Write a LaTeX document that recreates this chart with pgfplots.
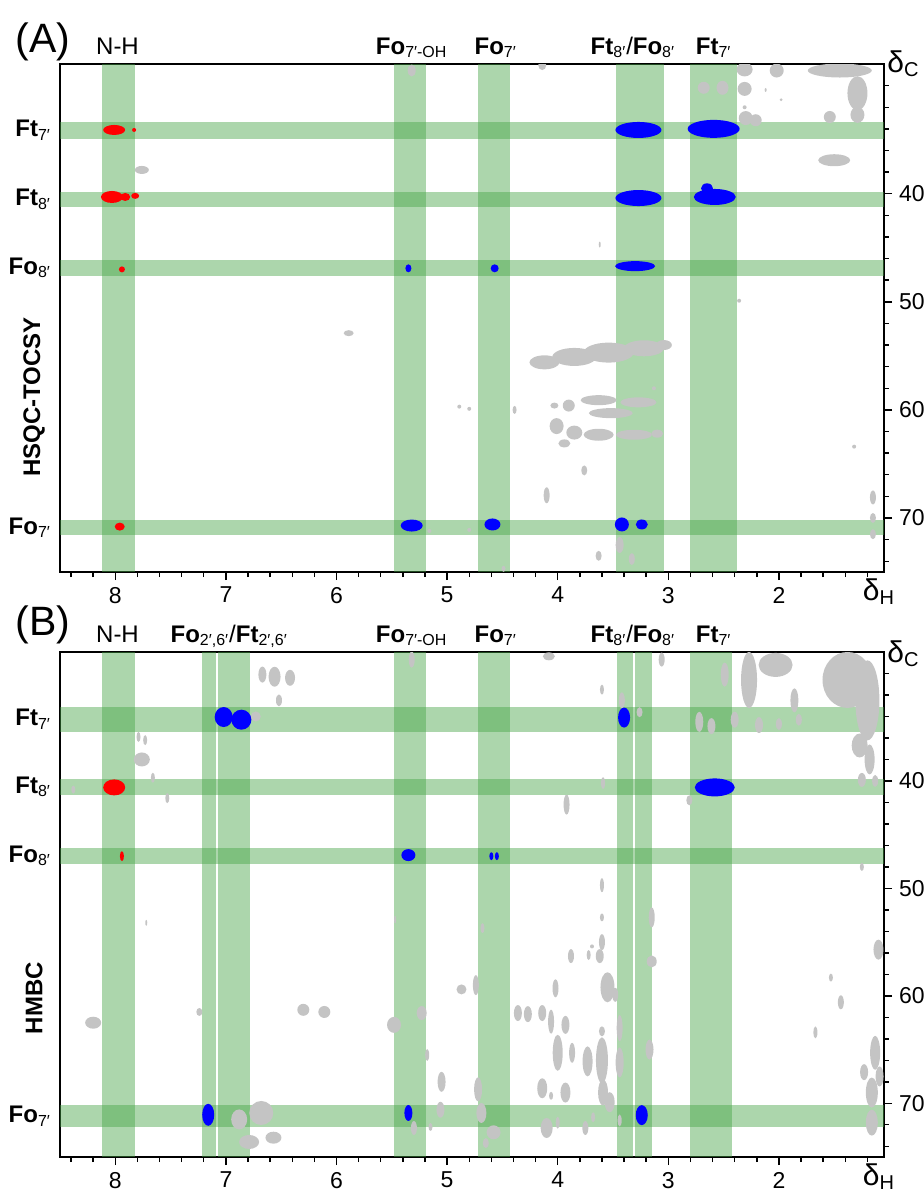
\documentclass[border=0pt]{standalone}
\usepackage{fontspec}
\setmainfont{Liberation Sans}
\usepackage{pgfplots}
\usepackage{pgfplotstable}
\pgfplotsset{compat=1.18}

\definecolor{bandgreen}{RGB}{70,165,70}
\definecolor{peakgray}{RGB}{196,196,196}

% ellipse mark, radii (in reference pixels) come from the table
\pgfdeclareplotmark{blob}{%
  \pgfpathellipse{\pgfpointorigin}{\pgfpoint{0.5*\rx pt}{0pt}}{\pgfpoint{0pt}{0.5*\ry pt}}%
  \pgfusepathqfill}

\pgfplotsset{
  nmr/.style={
    scale only axis, width=412pt,
    x dir=reverse, y dir=reverse,
    xmin=1.05, xmax=8.5, ymin=28, ymax=75,
    xtick={2,3,4,5,6,7,8}, minor xtick={1.2,1.4,...,8.45},
    ytick={40,50,60,70}, minor ytick={30,32,...,74},
    xtick pos=left, ytick pos=right, yticklabel pos=right,
    tick align=outside,
    major tick length=4pt, minor tick length=2.5pt,
    every tick/.style={black, line width=0.7pt},
    axis line style={line width=0.8pt},
    tick label style={font=\fontsize{11.5}{12}\selectfont},
    /pgf/number format/assume math mode=true,
    clip mode=individual, clip marker paths=true,
  },
  band/.style={draw=none, fill=bandgreen, fill opacity=0.45, forget plot},
  blobs/.style={only marks, scatter, mark=blob, forget plot,
    visualization depends on={\thisrow{rx}\as\rx},
    visualization depends on={\thisrow{ry}\as\ry},
    scatter/@pre marker code/.code={}, scatter/@post marker code/.code={}},
}

\newcommand\vband[2]{\addplot[band] coordinates {(#1,28) (#2,28) (#2,75) (#1,75)} -- cycle;}
\newcommand\hband[2]{\addplot[band] coordinates {(8.5,#1) (1.05,#1) (1.05,#2) (8.5,#2)} -- cycle;}
\newcommand\lab[2]{\textbf{#1}\textsubscript{#2}}
\newcommand\labfont{\fontsize{12}{14}\selectfont}

% ---- panel A: HSQC-TOCSY ----
\pgfplotstableread{
x y rx ry
2.31 28.5 8 7
2.02 28.6 7 7
1.45 28.6 32 7
1.29 30.7 10 17
1.29 32.7 7 8
1.54 32.9 6 6
2.31 30.3 7 7
2.51 30.2 6 7
2.68 30.2 6 6
2.30 33.0 7 7
2.21 33.2 6 6
2.12 30.4 1 2
1.98 31.3 1.5 1.5
2.31 32.0 2 2
4.14 28.1 4 5
5.32 28.6 4 6
7.76 37.8 7 4
1.50 36.9 16 6
4.12 55.6 15 7
3.85 55.1 22 9
3.54 54.7 25 10
3.22 54.3 20 8
3.04 54.0 8 5
5.89 52.9 5 3
3.63 59.1 18 5
3.27 59.3 18 5
3.90 59.6 6 6
4.03 59.6 4 3
3.52 60.3 22 5
4.01 61.5 7 8
3.85 62.1 8 7
3.63 62.3 15 6
3.31 62.3 18 5
3.10 62.2 6 4
3.94 63.1 6 4
4.89 59.7 2 2
4.80 59.9 2 2
4.39 60.0 2 4
3.13 58.0 2 2
4.10 67.9 3 8
3.76 65.6 3 5
3.44 72.5 4 8
3.33 73.8 3 6
3.63 73.5 3 5
4.80 71.1 2 2
5.16 71.2 2 2
4.49 74.7 2 3
2.36 49.9 2 2
3.62 44.7 1 3
1.32 63.4 2 2
1.15 68.1 3 7
1.15 70.0 3 5
1.15 71.5 3 5
}\grayA
\pgfplotstableread{
x y rx ry
8.01 34.1 11 5
7.83 34.1 2 2
8.03 40.3 11 6
7.91 40.3 5 4
7.82 40.2 4 3
7.94 47.0 3 3
7.96 70.8 5 4
}\redA
\pgfplotstableread{
x y rx ry
5.35 46.9 3 4
4.57 46.9 4 4
3.27 34.1 23 8
2.59 34.0 26 9
3.27 40.4 23 8
2.58 40.3 21 8
2.65 39.5 6 5
3.30 46.7 20 5
5.32 70.7 11 6
4.59 70.6 8 6
3.42 70.6 7 7
3.24 70.6 6 5
}\blueA

% ---- panel B: HMBC ----
\pgfplotstableread{
x y rx ry
2.27 30.6 8 28
2.03 29.2 17 12
1.86 32.5 4 12
1.38 30.6 25 28
1.20 32.5 12 40
1.27 36.7 8 12
1.18 38.0 5 15
1.25 39.9 4 7
1.13 40.0 3 6
1.25 48.0 2 4
3.06 28.7 3 7
2.49 30.1 4 12
3.60 31.5 2 5
3.42 32.5 3 8
4.08 28.4 6 4
5.32 28.7 3 8
6.67 30.1 4 8
6.56 30.3 6 10
6.42 30.4 5 8
6.52 32.5 3 6
6.73 34.0 5 5
7.79 35.9 2 5
7.73 36.2 2 5
7.76 38.0 8 7
7.66 39.7 2 5
7.53 41.6 2 5
8.38 40.8 2 4
7.72 53.2 1 3
8.20 62.5 8 6
2.72 34.5 4 10
2.61 34.9 4 8
2.40 34.3 4 8
2.18 34.8 4 8
2.00 34.7 3 6
1.82 34.3 3 6
3.26 33.6 3 5
3.59 40.2 2 6
3.92 42.2 3 10
2.81 41.8 3 5
7.24 61.5 3 4
6.30 61.3 6 6
6.11 61.5 6 6
6.88 71.5 8 10
6.68 70.9 12 12
6.79 73.6 10 7
6.57 73.2 8 6
5.48 62.7 7 8
5.23 61.6 5 7
5.18 65.5 2 6
5.05 68.0 4 10
5.06 70.6 4 8
5.30 72.3 3 7
5.15 72.2 2 4
5.47 52.9 1 4
4.87 59.4 5 5
4.74 59.0 3 10
4.68 53.7 2 5
4.72 68.7 4 12
4.69 70.9 5 10
4.58 72.7 7 7
4.65 73.7 3 5
4.36 61.6 4 8
4.27 61.7 4 8
4.14 61.6 4 8
4.06 62.4 3 12
4.02 59.3 3 9
3.88 56.3 3 7
3.93 62.7 4 9
4.00 65.3 5 18
3.87 65.3 3 10
3.73 66.1 5 15
4.14 68.6 5 10
4.06 69.3 2 4
3.93 69.0 5 10
4.10 72.3 6 10
4.00 71.8 2 6
3.75 72.3 3 7
3.68 71.3 2 5
3.72 56.2 2 5
3.69 55.4 2 2
3.62 56.3 4 7
3.60 55.0 3 8
3.60 49.7 2 7
3.60 52.7 2 4
3.55 59.2 7 15
3.48 59.9 3 7
3.60 63.3 3 5
3.60 66.0 6 23
3.59 69.0 5 13
3.53 69.9 5 10
3.44 63.0 3 13
3.44 66.2 4 15
3.44 71.6 2 6
3.15 52.7 3 10
3.15 56.8 5 6
3.17 65.0 4 10
1.53 58.3 2 4
1.44 60.6 3 7
1.67 63.4 2 6
1.10 55.7 5 10
1.13 65.3 5 17
1.23 67.1 4 8
1.16 69.0 6 15
1.16 71.8 6 13
1.09 67.5 4 10
}\grayB
\pgfplotstableread{
x y rx ry
8.01 40.6 11 8
7.94 47.0 2 5
}\redB
\pgfplotstableread{
x y rx ry
7.02 34.05 9 10
6.86 34.3 10 10
7.16 71.07 6 11
5.35 46.9 7 6
4.60 47.0 2 4
4.55 47.0 2 4
3.40 34.1 6 10
2.58 40.6 20 9
5.35 70.9 4 8
3.24 71.1 6 10
}\blueB

\begin{document}
\begin{tikzpicture}
\useasboundingbox (0,0) rectangle (462pt,-595.5pt);

\begin{axis}[nmr, height=254pt, at={(30pt,-286pt)}, anchor=south west]
  \vband{8.12}{7.82}
  \vband{5.48}{5.19}
  \vband{4.72}{4.43}
  \vband{3.47}{3.04}
  \vband{2.80}{2.38}
  \hband{33.4}{34.9}
  \hband{39.8}{41.2}
  \hband{46.1}{47.6}
  \hband{70.2}{71.6}
  \addplot[blobs, peakgray] table {\grayA};
  \addplot[blobs, red] table {\redA};
  \addplot[blobs, blue] table {\blueA};

  \node[anchor=base, font=\labfont, yshift=5pt] at (axis cs:7.98,28) {N-H};
  \node[anchor=base, font=\labfont, yshift=5pt] at (axis cs:5.32,28) {\lab{Fo}{7′-OH}};
  \node[anchor=base, font=\labfont, yshift=5pt] at (axis cs:4.56,28) {\lab{Fo}{7′}};
  \node[anchor=base, font=\labfont, yshift=5pt] at (axis cs:3.32,28) {\lab{Ft}{8′}/\lab{Fo}{8′}};
  \node[anchor=base, font=\labfont, yshift=5pt] at (axis cs:2.59,28) {\lab{Ft}{7′}};

  \node[anchor=east, font=\labfont, xshift=-1pt] at (axis cs:8.5,34.15) {\lab{Ft}{7′}};
  \node[anchor=east, font=\labfont, xshift=-1pt] at (axis cs:8.5,40.5) {\lab{Ft}{8′}};
  \node[anchor=east, font=\labfont, xshift=-1pt] at (axis cs:8.5,46.85) {\lab{Fo}{8′}};
  \node[anchor=east, font=\labfont, xshift=-1pt] at (axis cs:8.5,70.9) {\lab{Fo}{7′}};

  \node[anchor=base west, inner sep=0pt, xshift=1.5pt, yshift=-4pt] at (axis cs:1.05,28)
    {\fontsize{15}{16}\selectfont δ\textsubscript{\fontsize{10}{11}\selectfont C}};
  \node[anchor=north, inner sep=0pt, xshift=-2.5pt, yshift=-3pt] at (axis cs:1.05,75)
    {\fontsize{15}{16}\selectfont δ\textsubscript{\fontsize{10}{11}\selectfont H}};
\end{axis}

\begin{axis}[nmr, height=252.5pt, at={(30pt,-578.5pt)}, anchor=south west]
  \vband{8.12}{7.82}
  \vband{7.22}{7.09}
  \vband{7.07}{6.78}
  \vband{5.48}{5.19}
  \vband{4.72}{4.43}
  \vband{3.46}{3.32}
  \vband{3.30}{3.15}
  \vband{2.80}{2.42}
  \hband{33.1}{35.4}
  \hband{39.8}{41.3}
  \hband{46.2}{47.7}
  \hband{70.2}{72.2}
  \addplot[blobs, peakgray] table {\grayB};
  \addplot[blobs, red] table {\redB};
  \addplot[blobs, blue] table {\blueB};

  \node[anchor=base, font=\labfont, yshift=5pt] at (axis cs:7.98,28) {N-H};
  \node[anchor=base, font=\labfont, yshift=5pt] at (axis cs:6.97,28) {\lab{Fo}{2′,6′}/\lab{Ft}{2′,6′}};
  \node[anchor=base, font=\labfont, yshift=5pt] at (axis cs:5.32,28) {\lab{Fo}{7′-OH}};
  \node[anchor=base, font=\labfont, yshift=5pt] at (axis cs:4.56,28) {\lab{Fo}{7′}};
  \node[anchor=base, font=\labfont, yshift=5pt] at (axis cs:3.32,28) {\lab{Ft}{8′}/\lab{Fo}{8′}};
  \node[anchor=base, font=\labfont, yshift=5pt] at (axis cs:2.59,28) {\lab{Ft}{7′}};

  \node[anchor=east, font=\labfont, xshift=-1pt] at (axis cs:8.5,34.25) {\lab{Ft}{7′}};
  \node[anchor=east, font=\labfont, xshift=-1pt] at (axis cs:8.5,40.55) {\lab{Ft}{8′}};
  \node[anchor=east, font=\labfont, xshift=-1pt] at (axis cs:8.5,46.95) {\lab{Fo}{8′}};
  \node[anchor=east, font=\labfont, xshift=-1pt] at (axis cs:8.5,71.2) {\lab{Fo}{7′}};

  \node[anchor=base west, inner sep=0pt, xshift=1.5pt, yshift=-5pt] at (axis cs:1.05,28)
    {\fontsize{15}{16}\selectfont δ\textsubscript{\fontsize{10}{11}\selectfont C}};
  \node[anchor=north, inner sep=0pt, xshift=-2.5pt, yshift=-3pt] at (axis cs:1.05,75)
    {\fontsize{15}{16}\selectfont δ\textsubscript{\fontsize{10}{11}\selectfont H}};
\end{axis}

\node[anchor=base west, inner sep=0pt, font=\fontsize{20.5}{22}\selectfont] at (7.5pt,-26pt) {(A)};
\node[anchor=base west, inner sep=0pt, font=\fontsize{20.5}{22}\selectfont] at (7.5pt,-317.5pt) {(B)};
\node[rotate=90, font=\fontsize{12}{14}\selectfont\bfseries] at (17pt,-198.5pt) {HSQC-TOCSY};
\node[rotate=90, font=\fontsize{12}{14}\selectfont\bfseries] at (17pt,-499pt) {HMBC};
\end{tikzpicture}
\end{document}
